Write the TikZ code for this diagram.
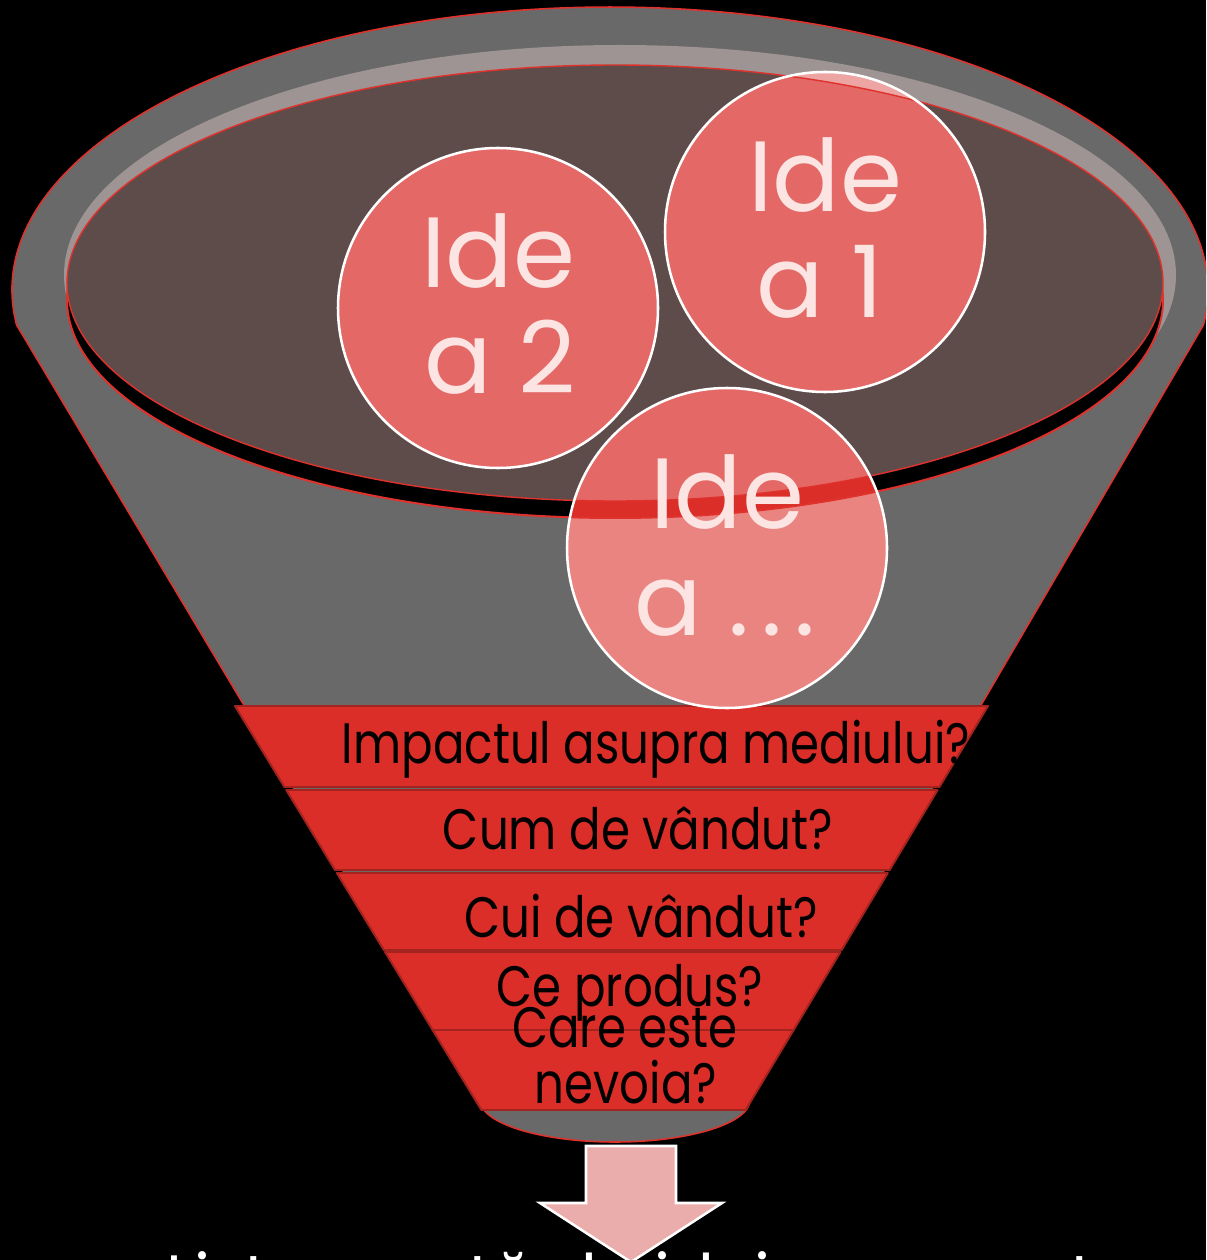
\documentclass[tikz,border=0pt]{standalone}
\usepackage{fontspec}
\setmainfont{Poppins}
\definecolor{funnelgray}{HTML}{696969}
\definecolor{rimgray}{HTML}{9E9494}
\definecolor{potbrown}{HTML}{5E4C4B}
\definecolor{edgered}{HTML}{E0322C}
\definecolor{bandred}{HTML}{DC2E28}
\definecolor{banddark}{HTML}{A3231F}
\definecolor{ideared}{HTML}{E36866}
\definecolor{idealight}{HTML}{E98481}
\definecolor{idearim}{HTML}{ECA5A2}
\definecolor{ideatext}{HTML}{FBE4E2}
\definecolor{arrowpink}{HTML}{EBADAB}
\tikzset{
  edge/.style={draw=edgered,line width=1.1pt},
  band/.style={fill=bandred,draw=banddark,line width=1.4pt,line join=round},
  ideatxt/.style={text=ideatext,inner sep=0,anchor=base,font=\fontsize{71}{80}\selectfont},
  qtext/.style={text=black,inner sep=0,anchor=base,font=\fontsize{40.5}{44}\selectfont},
}
\newcommand{\funnel}{(16.6,325) arc[start angle=172.9,end angle=367.1,x radius=598,y radius=283]
  -- (750,1100) arc[start angle=0,end angle=180,x radius=135,y radius=42] -- cycle}
\newcommand{\rim}{(620,275) ellipse [x radius=556,y radius=230]}
\newcommand{\shadowpot}{(615,300) ellipse [x radius=548,y radius=218]}
\newcommand{\innerpot}{(615,283) ellipse [x radius=548,y radius=218]}
\begin{document}
\begin{tikzpicture}[x=0.025cm,y=-0.025cm]
\useasboundingbox (0,0) rectangle (1206,1260);
\clip (0,0) rectangle (1206,1260);
\fill[black] (0,0) rectangle (1206,1260);
% funnel body
\path[edge,fill=funnelgray] \funnel;
% rim and opening
\fill[rimgray] \rim;
\draw[fill=black,draw=edgered,line width=1.4pt] \shadowpot;
\draw[fill=potbrown,draw=edgered,line width=1pt] \innerpot;
% filter bands
\foreach \t/\b in {706/787,790/870,873/950,952/1030,1030/1110}
  \draw[band] ({235+0.61*(\t-706)},\t) -- ({988-0.6*(\t-706)},\t)
    -- ({988-0.6*(\b-706)},\b) -- ({235+0.61*(\b-706)},\b) -- cycle;
% ideas
\foreach \cx/\cy in {498/308,825/232,727/548}{
  \fill[idealight] (\cx,\cy) circle[radius=160];
  \begin{scope}
    \clip (\cx,\cy) circle[radius=160];
    \fill[idearim] \rim;
    \draw[fill=bandred,draw=edgered,line width=1.4pt] \shadowpot;
    \draw[fill=ideared,draw=edgered,line width=1pt] \innerpot;
  \end{scope}
  \draw[white,line width=1.8pt] (\cx,\cy) circle[radius=160];
}
\node[ideatxt] (idea2a) at (498,288) {Ide};
\node[ideatxt] (idea2b) at (500,393) {a 2};
\node[ideatxt] (idea1a) at (825,212) {Ide};
\node[ideatxt] (idea1b) at (820,318) {a 1};
\node[ideatxt] (idea3a) at (727,528) {Ide};
\node[ideatxt] (idea3b) at (725,635) {a .\kern0.12em.\kern0.12em.};
% questions
\node[qtext] (impact) at (656,763) {\scalebox{0.82}[1]{Impactul asupra mediului?}};
\node[qtext] (cum) at (638,849) {\scalebox{0.82}[1]{Cum de vândut?}};
\node[qtext] (cui) at (641,937) {\scalebox{0.82}[1]{Cui de vândut?}};
\node[qtext] (produs) at (630,1006) {\scalebox{0.82}[1]{Ce produs?}};
\node[qtext] (care) at (625,1047) {\scalebox{0.82}[1]{Care este}};
\node[qtext] (nevoia) at (626,1103) {\scalebox{0.82}[1]{nevoia?}};
% result arrow
\draw[fill=arrowpink,draw=white,line width=1.8pt,line join=miter]
  (586,1146) -- (676,1146) -- (676,1203) -- (722,1203) -- (631,1262)
  -- (540,1203) -- (586,1203) -- cycle;
\node[text=white,inner sep=0,anchor=base,font=\fontsize{47.6}{52}\selectfont] (result) at (630,1302)
  {\scalebox{0.97}[1]{Lista scurtă de idei care sunt}};
\end{tikzpicture}
\end{document}
